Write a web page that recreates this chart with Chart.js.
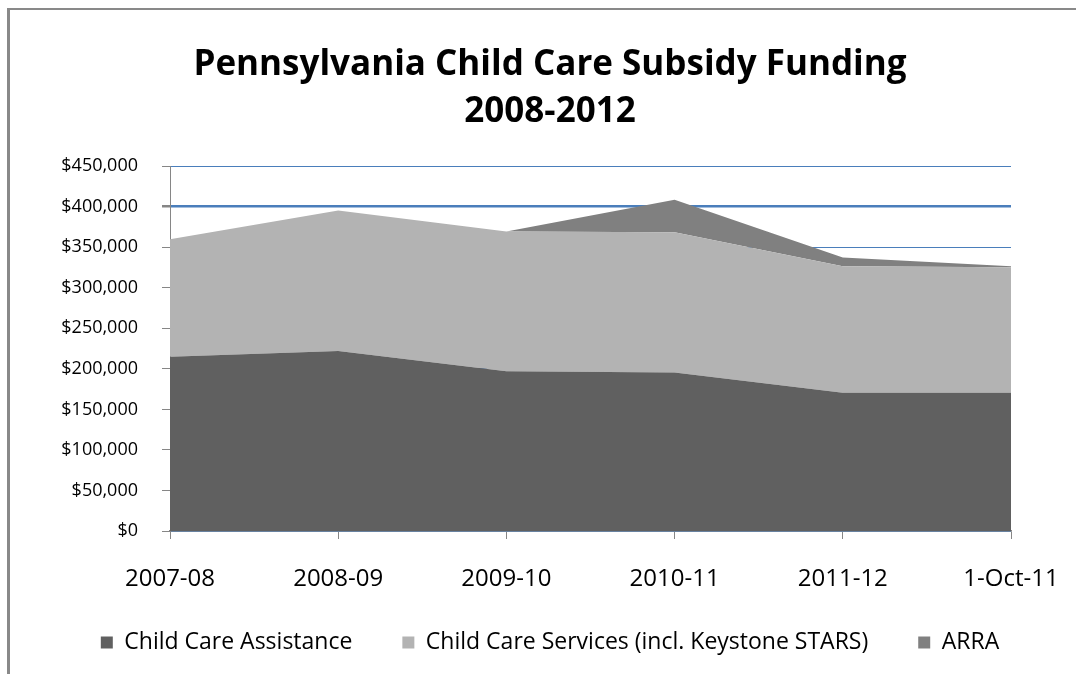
<!DOCTYPE html>
<html>
<head>
<meta charset="utf-8">
<script src="https://cdn.jsdelivr.net/npm/chart.js@4.4.1/dist/chart.umd.min.js"></script>
<style>
  html, body { margin: 0; padding: 0; background: #fff; }
  canvas { display: block; }
</style>
</head>
<body>
<canvas id="c" width="1076" height="674"></canvas>
<script>
const categories = ['2007-08', '2008-09', '2009-10', '2010-11', '2011-12', '1-Oct-11'];
const assistance = [215000, 222000, 197000, 195500, 170500, 170500];
const services   = [145000, 173500, 172500, 173000, 156000, 155000];
const arra       = [0, 0, 0, 40000, 11000, 1000];
const seriesNames = ['Child Care Assistance', 'Child Care Services (incl. Keystone STARS)', 'ARRA'];
const yTickValues = [0, 50000, 100000, 150000, 200000, 250000, 300000, 350000, 400000, 450000];
const yTickLabels = ['$0', '$50,000', '$100,000', '$150,000', '$200,000', '$250,000', '$300,000', '$350,000', '$400,000', '$450,000'];
const titleLines = ['Pennsylvania Child Care Subsidy Funding', '2008-2012'];

const FONT = '"Open Sans", Lato, sans-serif';
const AXIS_GRAY = '#868686';
const GRID_BLUE = '#4a7ebb';

const frame = {
  id: 'frame',
  beforeDraw(chart) {
    const ctx = chart.ctx;
    ctx.save();
    ctx.fillStyle = '#fff';
    ctx.fillRect(0, 0, chart.width, chart.height);
    ctx.fillStyle = '#898989';
    ctx.fillRect(7, 8, 3, chart.height - 8);
    ctx.fillRect(7, 8, chart.width - 7, 2);
    ctx.restore();
  }
};

function ds(label, data, color, fill) {
  return {
    label, data, fill,
    backgroundColor: color,
    borderColor: color,
    borderWidth: 0,
    pointRadius: 0,
    pointHoverRadius: 0,
    tension: 0
  };
}

new Chart(document.getElementById('c'), {
  type: 'line',
  data: {
    labels: categories,
    datasets: [
      ds(seriesNames[0], assistance, '#606060', 'origin'),
      ds(seriesNames[1], services, '#b3b3b3', '-1'),
      ds(seriesNames[2], arra, '#808080', '-1')
    ]
  },
  plugins: [frame],
  options: {
    responsive: false,
    animation: false,
    devicePixelRatio: 1,
    layout: { padding: { left: 29, right: 5, top: 8, bottom: 10 } },
    plugins: {
      tooltip: { enabled: false },
      title: {
        display: true,
        text: titleLines,
        color: '#000',
        font: { family: FONT, size: 35, weight: 'bold', lineHeight: 1.36 },
        padding: { top: 33, bottom: 30 }
      },
      legend: {
        position: 'bottom',
        labels: {
          color: '#000',
          font: { family: FONT, size: 23 },
          boxWidth: 12,
          boxHeight: 12,
          padding: 50
        }
      }
    },
    scales: {
      x: {
        offset: false,
        grid: {
          display: true,
          drawOnChartArea: false,
          drawTicks: true,
          tickLength: 8,
          tickColor: AXIS_GRAY,
          lineWidth: 1
        },
        border: { display: true, color: AXIS_GRAY, width: 1.5 },
        ticks: {
          color: '#000',
          font: { family: FONT, size: 24 },
          padding: 26,
          maxRotation: 0,
          autoSkip: false
        },
        afterFit(s) {
          s.height = 50; s.paddingLeft = 0; s.paddingRight = 0;
          s._computeLabelArea = () => undefined;
        }
      },
      y: {
        stacked: true,
        min: 0,
        max: 450000,
        afterBuildTicks(s) { s.ticks = yTickValues.map(v => ({ value: v })); },
        grid: {
          color: GRID_BLUE,
          lineWidth: (c) => (c.tick && c.tick.value === 400000 ? 2.5 : 1),
          drawTicks: true,
          tickLength: 8,
          tickColor: AXIS_GRAY
        },
        border: { display: true, color: AXIS_GRAY, width: 1 },
        ticks: {
          color: '#000',
          font: { family: FONT, size: 18 },
          padding: 24,
          callback: (v) => yTickLabels[yTickValues.indexOf(v)]
        },
        afterFit(s) { s.width = 141; }
      },
      yPad: {
        position: 'right',
        display: true,
        grid: { display: false, drawTicks: false },
        border: { display: false },
        ticks: { display: false },
        afterFit(s) { s.width = 60; }
      }
    }
  }
});
</script>
</body>
</html>
